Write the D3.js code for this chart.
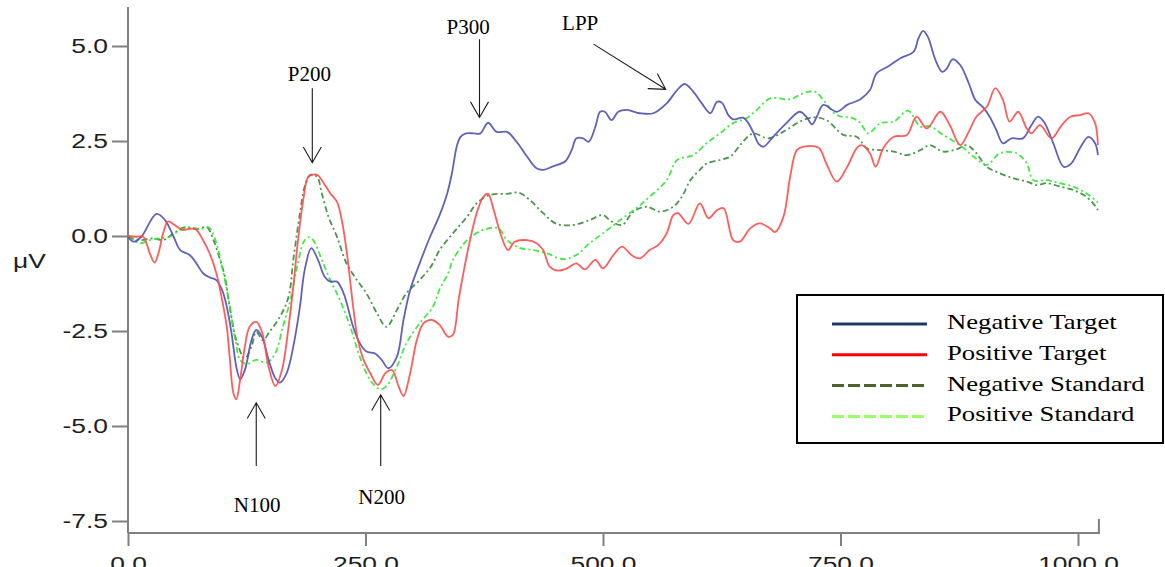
<!DOCTYPE html>
<html>
<head>
<meta charset="utf-8">
<script src="https://cdn.jsdelivr.net/npm/d3@7"></script>
<style>
    body { margin: 0; background: #fff; }
    svg { display: block; }
</style>
</head>
<body>
<svg id="erp"></svg>
<script>
const seriesNames = [
    'Negative Target',
    'Positive Target',
    'Negative Standard',
    'Positive Standard'
];

// [ms, µV]
const negativeTarget = [
    [0,-0.02],[6,-0.15],[14,-0.02],[30,0.58],[39,0.42],[48,-0.02],[55,-0.37],[65,-0.5],[72,-0.72],
    [79,-0.98],[86,-1.09],[93,-1.16],[99,-1.42],[104,-1.86],[109,-2.56],[114,-3.44],[118,-3.77],
    [123,-3.53],[130,-2.74],[135,-2.47],[141,-2.65],[148,-3.26],[155,-3.74],[160,-3.86],[167,-3.61],
    [174,-2.91],[181,-1.86],[186,-0.89],[193,-0.32],[200,-0.63],[207,-1.07],[213,-1.2],[220,-1.2],
    [227,-1.51],[237,-2.39],[244,-2.82],[251,-3.04],[260,-3.09],[267,-3.26],[274,-3.48],[283,-3.18],
    [290,-2.21],[297,-1.42],[307,-0.72],[318,-0.02],[328,0.55],[336,1.12],[341,1.65],[346,2.35],
    [350,2.61],[356,2.7],[364,2.7],[371,2.7],[379,2.98],[388,2.74],[399,2.74],[409,2.48],[420,2.09],
    [430,1.78],[437,1.74],[448,1.84],[460,1.96],[467,2.26],[472,2.57],[479,2.57],[485,2.48],
    [492,2.88],[497,3.27],[502,3.27],[509,3.05],[516,3.27],[525,3.32],[539,3.23],[553,3.23],
    [567,3.49],[578,3.84],[586,4.0],[595,3.8],[604,3.49],[613,3.23],[620,3.53],[625,3.51],
    [632,3.18],[637,3.07],[648,3.11],[657,2.79],[664,2.42],[669,2.35],[679,2.61],[693,2.97],
    [707,3.27],[714,3.14],[720,2.94],[725,3.14],[732,3.45],[746,3.27],[757,3.45],[771,3.6],
    [781,3.84],[788,4.28],[800,4.46],[813,4.68],[827,4.85],[832,5.2],[837,5.4],[842,5.24],
    [850,4.63],[857,4.32],[862,4.41],[868,4.65],[876,4.5],[885,4.02],[892,3.58],[900,3.39],
    [907,3.14],[914,2.79],[921,2.44],[930,2.57],[942,2.57],[951,2.92],[958,3.14],[965,2.97],
    [974,2.44],[985,1.82],[993,1.91],[1002,2.31],[1011,2.61],[1018,2.44],[1021,2.13]
];

const positiveTarget = [
    [0,0.0],[9,-0.02],[16,-0.02],[23,-0.46],[28,-0.7],[32,-0.46],[37,0.07],[42,0.38],[49,0.29],
    [57,0.16],[63,0.18],[71,0.18],[79,-0.11],[86,-0.46],[93,-0.98],[99,-1.68],[104,-2.39],
    [107,-3.18],[111,-4.14],[114,-4.3],[118,-3.79],[123,-2.91],[128,-2.39],[135,-2.26],[141,-2.52],
    [148,-3.44],[155,-3.95],[162,-3.53],[169,-2.39],[174,-1.33],[179,-0.11],[185,1.03],[190,1.56],
    [199,1.61],[206,1.39],[213,1.12],[220,0.9],[225,0.42],[230,-0.37],[237,-1.86],[242,-2.74],
    [248,-3.26],[255,-3.61],[263,-3.92],[271,-3.61],[278,-3.53],[285,-3.97],[290,-4.21],[297,-3.61],
    [304,-2.74],[311,-2.3],[320,-2.21],[328,-2.34],[337,-2.65],[342,-2.6],[348,-1.68],[353,-0.98],
    [360,-0.11],[367,0.6],[374,1.03],[379,1.11],[385,0.68],[392,0.07],[400,-0.37],[407,-0.15],
    [420,-0.11],[430,-0.19],[437,-0.37],[444,-0.81],[453,-0.91],[462,-0.85],[472,-0.72],[481,-0.88],
    [492,-0.63],[500,-0.85],[511,-0.5],[520,-0.28],[530,-0.5],[539,-0.59],[549,-0.37],[558,-0.24],
    [567,0.07],[574,0.55],[579,0.6],[590,0.32],[602,0.86],[611,0.47],[620,0.68],[627,0.73],
    [637,-0.11],[644,-0.15],[655,0.2],[665,0.33],[676,0.2],[681,0.1],[690,0.51],[697,1.56],
    [704,2.26],[711,2.35],[727,2.32],[735,1.91],[746,1.43],[757,1.82],[767,2.31],[772,2.39],
    [781,2.18],[787,1.82],[795,2.31],[806,2.61],[820,2.66],[830,3.14],[841,2.83],[855,3.27],
    [865,2.92],[876,2.39],[885,2.74],[893,3.14],[904,3.4],[913,3.89],[921,3.58],[928,3.01],
    [937,3.27],[946,2.83],[951,2.7],[960,2.92],[972,2.57],[983,2.92],[992,3.14],[1002,3.18],
    [1011,3.23],[1018,2.97],[1021,2.39]
];

const negativeStandard = [
    [0,-0.02],[13,-0.11],[27,-0.06],[37,-0.11],[48,0.07],[60,0.23],[72,0.18],[83,0.23],[90,-0.11],
    [97,-0.63],[102,-1.07],[107,-1.86],[114,-2.74],[123,-3.22],[130,-2.91],[135,-2.52],[142,-2.74],
    [149,-2.52],[160,-2.12],[169,-1.6],[174,-0.63],[181,0.6],[186,1.3],[192,1.61],[199,1.56],
    [204,1.12],[211,0.51],[220,-0.02],[230,-0.72],[241,-1.16],[251,-1.51],[262,-2.03],[272,-2.39],
    [283,-1.95],[293,-1.51],[307,-1.16],[319,-0.8],[328,-0.37],[342,0.07],[357,0.51],[367,0.86],
    [381,1.08],[399,1.11],[411,1.14],[423,0.95],[437,0.6],[451,0.32],[469,0.29],[486,0.42],
    [500,0.55],[509,0.38],[520,0.29],[532,0.64],[546,0.77],[560,0.64],[574,0.77],[583,1.03],
    [592,1.47],[602,1.74],[609,1.91],[623,2.0],[634,2.09],[646,2.44],[658,2.7],[674,2.57],
    [693,2.79],[707,3.01],[721,3.12],[735,3.05],[753,2.66],[767,2.61],[778,2.31],[792,2.26],
    [806,2.22],[820,2.13],[834,2.26],[844,2.39],[858,2.22],[872,2.28],[883,2.39],[893,2.18],
    [904,1.82],[918,1.65],[932,1.52],[946,1.43],[957,1.34],[967,1.39],[981,1.3],[995,1.21],
    [1006,1.08],[1016,0.86],[1021,0.68]
];

const positiveStandard = [
    [0,-0.02],[13,-0.19],[23,-0.11],[34,-0.06],[44,-0.02],[55,0.16],[65,0.23],[76,0.18],[85,0.23],
    [92,-0.11],[99,-0.81],[106,-1.68],[113,-2.74],[118,-3.26],[125,-3.37],[135,-3.26],[146,-3.33],
    [155,-3.09],[163,-2.39],[171,-1.68],[178,-0.81],[185,-0.15],[190,-0.03],[195,-0.11],[204,-0.63],
    [213,-1.16],[223,-1.68],[234,-2.39],[244,-3.18],[255,-3.79],[265,-4.03],[272,-3.95],[283,-3.44],
    [293,-2.82],[307,-2.3],[321,-1.86],[328,-1.4],[337,-0.98],[342,-0.63],[357,-0.11],[374,0.16],
    [390,0.2],[399,-0.11],[413,-0.32],[427,-0.37],[441,-0.46],[458,-0.61],[472,-0.5],[486,-0.19],
    [500,0.07],[518,0.42],[535,0.73],[549,1.03],[567,1.47],[578,2.0],[595,2.13],[609,2.44],
    [623,2.7],[637,2.97],[651,3.1],[662,3.32],[676,3.62],[697,3.6],[711,3.76],[723,3.8],[732,3.58],
    [746,3.18],[763,3.1],[771,2.97],[779,2.7],[792,2.97],[806,3.01],[821,3.3],[834,2.88],[844,2.89],
    [858,2.66],[876,2.39],[890,2.09],[904,1.87],[918,2.18],[935,2.18],[946,1.91],[953,1.47],
    [967,1.47],[981,1.39],[995,1.3],[1009,1.12],[1021,0.88]
];

const yTicks = [-7.5, -5.0, -2.5, 0.0, 2.5, 5.0];
const xTicks = [0, 250, 500, 750, 1000];

// component labels, [ms, µV] for arrow tip, arrow tail and label
const annotations = [
    { label: 'P200', tip: [194, 1.93], tail: [194, 3.89], text: [191, 4.08] },
    { label: 'P300', tip: [370, 3.12], tail: [370, 5.18], text: [358, 5.31] },
    { label: 'LPP', tip: [566, 3.86], tail: [490, 5.05], text: [476, 5.42] },
    { label: 'N100', tip: [135, -4.39], tail: [135, -6.05], text: [136, -7.25] },
    { label: 'N200', tip: [266, -4.18], tail: [266, -6.05], text: [267, -7.05] }
];

/* ===== styles ===== */
const plotStyle = [
    { color: '#5050b0', dash: null },
    { color: '#ff4b4b', dash: null },
    { color: '#3a8a3a', dash: '6,3,2,3' },
    { color: '#33e633', dash: '6,3,2,3' }
];
const legendStyle = [
    { color: '#1f3864', dash: null },
    { color: '#ff0000', dash: null },
    { color: '#4f6228', dash: '12,4' },
    { color: '#99ff66', dash: '12,4' }
];

const chart = {
    width: 1165,
    height: 567,
    top: 7,
    xAxisAt: 533,   // x axis sits a little under -7.5
    xEnd: 1022,     // axis runs past the last tick
    stretch: 1.32,  // the original figure was stretched sideways

    svg: d3.select('#erp'),

    x: d3.scaleLinear().domain([0, 1000]).range([128, 1078]),
    y: d3.scaleLinear().domain([-7.5, 5]).range([521, 46]),

    line: d3.line().curve(d3.curveCatmullRom.alpha(0.5))
};

const sansFont = '"Liberation Sans", Arial, sans-serif';
const serifFont = '"Liberation Serif", "Times New Roman", serif';

init();

function init() {
    chart.svg
        .attr('width', chart.width)
        .attr('height', chart.height);

    chart.line
        .x(d => chart.x(d[0]))
        .y(d => chart.y(d[1]));

    drawAxes();
    drawCurves([negativeTarget, positiveTarget, negativeStandard, positiveStandard]);
    drawAnnotations();
    drawLegend();
}

function drawAxes() {
    const fmt = d => d.toFixed(1);
    const x0 = chart.x(0);

    const yAxis = chart.svg.append('g')
        .attr('transform', `translate(${x0},0)`)
        .call(d3.axisLeft(chart.y).tickValues(yTicks).tickSize(16).tickFormat(fmt));
    yAxis.select('.domain').remove();
    yAxis.selectAll('.tick line').attr('stroke', '#808080').attr('stroke-width', 2);
    yAxis.selectAll('.tick text')
        .attr('x', -20 / chart.stretch)
        .attr('transform', `scale(${chart.stretch},1)`)
        .attr('fill', '#1e1e1e')
        .style('font', `20px ${sansFont}`);

    const xAxis = chart.svg.append('g')
        .attr('transform', `translate(0,${chart.xAxisAt})`)
        .call(d3.axisBottom(chart.x).tickValues(xTicks).tickSize(13).tickPadding(11).tickFormat(fmt));
    xAxis.select('.domain').remove();
    xAxis.selectAll('.tick line').attr('stroke', '#808080').attr('stroke-width', 2);
    xAxis.selectAll('.tick text')
        .attr('transform', `scale(${chart.stretch},1)`)
        .attr('fill', '#1e1e1e')
        .style('font', `20px ${sansFont}`);

    // axis lines drawn by hand: y line from the top, x line ends with a small upward tick
    const xe = chart.x(chart.xEnd);
    chart.svg.append('path')
        .attr('d', `M${x0},${chart.top}V${chart.xAxisAt}M${x0},${chart.xAxisAt}H${xe}V${chart.xAxisAt - 14}`)
        .attr('fill', 'none')
        .attr('stroke', '#808080')
        .attr('stroke-width', 2);

    chart.svg.append('text')
        .attr('transform', `translate(13,268) scale(${chart.stretch},1)`)
        .attr('fill', '#1e1e1e')
        .style('font', `20px ${sansFont}`)
        .text('μV');
}

function drawCurves(series) {
    // standards underneath, targets on top
    const order = [2, 3, 0, 1];
    chart.svg.append('g')
        .selectAll('path')
        .data(order)
        .enter().append('path')
        .attr('d', i => chart.line(series[i]))
        .attr('fill', 'none')
        .attr('stroke', i => plotStyle[i].color)
        .attr('stroke-dasharray', i => plotStyle[i].dash)
        .attr('stroke-width', 1.8)
        .attr('stroke-opacity', 0.9)
        .attr('stroke-linejoin', 'round');
}

function drawAnnotations() {
    const head = 18;
    const spread = Math.PI / 6;
    const g = chart.svg.append('g');

    annotations.forEach(a => {
        const tip = [chart.x(a.tip[0]), chart.y(a.tip[1])];
        const tail = [chart.x(a.tail[0]), chart.y(a.tail[1])];
        const ang = Math.atan2(tip[1] - tail[1], tip[0] - tail[0]);
        const p1 = [tip[0] - head * Math.cos(ang - spread), tip[1] - head * Math.sin(ang - spread)];
        const p2 = [tip[0] - head * Math.cos(ang + spread), tip[1] - head * Math.sin(ang + spread)];

        g.append('path')
            .attr('d', `M${tail}L${tip}M${p1}L${tip}L${p2}`)
            .attr('fill', 'none')
            .attr('stroke', '#1a1a1a')
            .attr('stroke-width', 1.1);

        g.append('text')
            .attr('x', chart.x(a.text[0]))
            .attr('y', chart.y(a.text[1]))
            .attr('text-anchor', 'middle')
            .attr('fill', '#000')
            .style('font', `21px ${serifFont}`)
            .text(a.label);
    });
}

function drawLegend() {
    const legend = {
        x: 797, y: 295, width: 366, height: 148,
        lineX1: 832, lineX2: 927, textX: 947,
        firstRow: 324, rowGap: 30.8, textStretch: 1.27
    };

    const g = chart.svg.append('g');

    g.append('rect')
        .attr('x', legend.x)
        .attr('y', legend.y)
        .attr('width', legend.width)
        .attr('height', legend.height)
        .attr('fill', '#fff')
        .attr('stroke', '#000')
        .attr('stroke-width', 2);

    const rows = g.selectAll('.row')
        .data(seriesNames)
        .enter().append('g')
        .attr('class', 'row')
        .attr('transform', (d, i) => `translate(0,${legend.firstRow + i * legend.rowGap})`);

    rows.append('line')
        .attr('x1', legend.lineX1)
        .attr('x2', legend.lineX2)
        .attr('stroke', (d, i) => legendStyle[i].color)
        .attr('stroke-dasharray', (d, i) => legendStyle[i].dash)
        .attr('stroke-width', 3);

    rows.append('text')
        .attr('transform', `translate(${legend.textX},5) scale(${legend.textStretch},1)`)
        .attr('fill', '#000')
        .style('font', `21px ${serifFont}`)
        .text(d => d);
}
</script>
</body>
</html>
